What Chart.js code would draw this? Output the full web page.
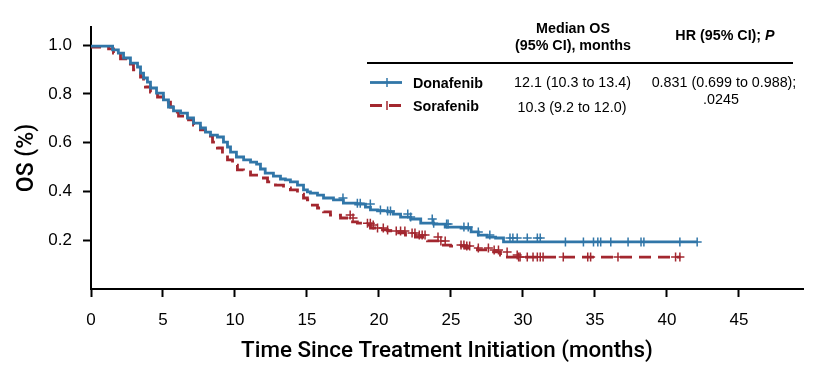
<!DOCTYPE html>
<html>
<head>
<meta charset="utf-8">
<script src="https://cdn.jsdelivr.net/npm/chart.js@4.4.1/dist/chart.umd.min.js"></script>
<style>
  html, body { margin:0; padding:0; background:#fff; }
  #wrap { position:relative; width:814px; height:378px; }
  #c { position:absolute; left:0; top:0; }
  .t { position:absolute; font-family:"Liberation Sans", Arial, sans-serif; color:#000; white-space:nowrap; line-height:1; font-size:14.3px; }
  .b { font-weight:bold; }
  .ctr { text-align:center; transform:translate(-50%,-50%); }
  .lft { transform:translate(0,-50%); }
  #rule { position:absolute; left:367px; top:62px; width:426px; height:1.5px; background:#000; }
</style>
</head>
<body>
<div id="wrap">
  <canvas id="c" width="814" height="378"></canvas>
  <div class="t b ctr" style="left:573px; top:28px;">Median OS</div>
  <div class="t b ctr" style="left:573px; top:45px;">(95% CI), months</div>
  <div class="t b ctr" style="left:725px; top:35px;">HR (95% CI); <i>P</i></div>
  <div id="rule"></div>
  <div class="t b lft" style="left:413px; top:82.5px;">Donafenib</div>
  <div class="t b lft" style="left:413px; top:106px;">Sorafenib</div>
  <div class="t ctr" style="left:572.5px; top:82px;">12.1 (10.3 to 13.4)</div>
  <div class="t ctr" style="left:572px; top:106.5px;">10.3 (9.2 to 12.0)</div>
  <div class="t ctr" style="left:724px; top:82px;">0.831 (0.699 to 0.988);</div>
  <div class="t ctr" style="left:721px; top:99px;">.0245</div>
</div>
<script>
// ---- Data ----
const seriesNames = ["Donafenib", "Sorafenib"];

const donaTimes = [0,1.5,1.9,2.26,2.74,3.23,3.44,3.65,3.92,4.13,4.55,5.03,5.38,5.73,6.22,6.7,7.12,7.6,7.95,8.3,8.78,9.2,9.48,9.69,10.1,10.6,11.08,11.5,11.77,12.1,12.67,13.16,13.5,13.85,14.34,14.76,15.03,15.24,15.73,16.15,16.84,17.53,18.38,19.06,19.41,19.9,20.6,21.0,21.5,22.2,22.9,23.8,24.6,25.7,26.4,26.9,27.5,28.1,28.65,31.7,42.1];
const donaSurv = [1.0,0.996,0.98,0.967,0.947,0.926,0.910,0.885,0.865,0.848,0.824,0.803,0.775,0.746,0.730,0.721,0.701,0.680,0.660,0.643,0.631,0.623,0.602,0.582,0.561,0.541,0.529,0.520,0.512,0.492,0.475,0.463,0.451,0.447,0.439,0.426,0.406,0.398,0.393,0.385,0.373,0.365,0.352,0.348,0.336,0.324,0.320,0.316,0.307,0.295,0.287,0.270,0.266,0.254,0.250,0.234,0.221,0.213,0.209,0.193,0.193];
const donaCensor = [17.5,18.5,18.7,19.4,20.1,20.6,20.8,22.0,22.2,23.7,23.8,24.7,24.8,25.9,26.2,26.9,27.7,29.1,29.3,29.6,30.3,31.0,31.2,32.95,34.2,34.9,35.2,35.4,36.1,37.3,38.2,38.4,40.9,42.1];

const soraTimes = [0,1.22,1.56,2.05,2.53,2.95,3.44,3.65,3.78,4.13,4.62,5.03,5.52,5.87,6.08,6.56,7.12,7.6,7.95,8.44,8.78,9.13,9.48,9.83,10.17,10.59,11.08,11.63,12.26,12.81,13.37,13.85,14.34,14.76,15.03,15.24,15.73,16.15,16.63,17.33,18.02,18.5,18.92,19.41,19.9,20.6,21.0,21.84,22.53,23.37,24.27,24.97,26.01,26.84,27.74,28.44,28.92,29.62,40.94];
const soraSurv = [1.0,0.992,0.984,0.967,0.943,0.922,0.898,0.869,0.844,0.828,0.807,0.787,0.766,0.746,0.725,0.709,0.693,0.672,0.652,0.627,0.602,0.578,0.549,0.529,0.508,0.488,0.480,0.467,0.455,0.439,0.426,0.414,0.406,0.389,0.373,0.365,0.344,0.332,0.316,0.303,0.291,0.275,0.270,0.262,0.250,0.242,0.238,0.230,0.221,0.213,0.197,0.180,0.176,0.168,0.160,0.152,0.139,0.131,0.131];
const soraCensor = [18.0,18.2,19.2,19.4,19.6,19.9,20.3,20.6,21.2,21.5,21.8,22.3,22.5,22.8,23.0,23.2,24.1,24.3,24.6,25.7,25.9,26.1,26.3,26.9,27.6,28.0,28.3,28.9,29.6,29.7,29.8,30.3,30.7,31.0,31.2,31.4,32.8,34.5,34.7,36.6,40.6,40.9];

const xTicks = [0,5,10,15,20,25,30,35,40,45];
const yTicks = [0.2,0.4,0.6,0.8,1.0];
const xTitle = "Time Since Treatment Initiation (months)";
const yTitle = "OS (%)";

const BLUE = "#3176a8";
const RED = "#a3272f";

// ---- Helpers ----
function toPts(ts, vs) { return ts.map((t, i) => ({ x: t, y: vs[i] })); }
function survAt(ts, vs, t) { let s = vs[0]; for (let i = 0; i < ts.length; i++) { if (ts[i] <= t) s = vs[i]; } return s; }
function censorPts(cs, ts, vs) { return cs.map(t => ({ x: t, y: survAt(ts, vs, t) })); }

const legendSamples = {
  id: "legendSamples",
  afterDraw(chart) {
    const ctx = chart.ctx;
    ctx.save();
    const rows = [{ y: 82.5, c: BLUE, dash: [] }, { y: 105.5, c: RED, dash: [12, 7] }];
    rows.forEach(r => {
      ctx.strokeStyle = r.c; ctx.lineWidth = 2.8; ctx.setLineDash(r.dash);
      ctx.beginPath(); ctx.moveTo(370, r.y); ctx.lineTo(402, r.y); ctx.stroke();
      ctx.setLineDash([]); ctx.lineWidth = 1.5;
      ctx.beginPath(); ctx.moveTo(387, r.y - 4.5); ctx.lineTo(387, r.y + 4.5); ctx.stroke();
    });
    ctx.restore();
  }
};

const tickFont = { family: "'Liberation Sans', Arial, sans-serif", size: 17 };

new Chart(document.getElementById("c"), {
  type: "line",
  data: {
    datasets: [
      { label: seriesNames[0], data: toPts(donaTimes, donaSurv), stepped: "after", borderColor: BLUE, borderWidth: 2.8, pointRadius: 0, fill: false, order: 1 },
      { label: seriesNames[1], data: toPts(soraTimes, soraSurv), stepped: "after", borderColor: RED, borderWidth: 2.8, borderDash: [12, 7], pointRadius: 0, fill: false, order: 2 },
      { type: "scatter", label: seriesNames[0] + " censored", data: censorPts(donaCensor, donaTimes, donaSurv), pointStyle: "cross", pointRadius: 4.5, pointBorderWidth: 1.5, borderColor: BLUE, backgroundColor: BLUE, showLine: false, order: 0 },
      { type: "scatter", label: seriesNames[1] + " censored", data: censorPts(soraCensor, soraTimes, soraSurv), pointStyle: "cross", pointRadius: 4.5, pointBorderWidth: 1.5, borderColor: RED, backgroundColor: RED, showLine: false, order: 0 }
    ]
  },
  options: {
    responsive: false,
    animation: false,
    events: [],
    layout: { padding: { top: 27, right: 11, left: 0, bottom: 0 } },
    plugins: { legend: { display: false }, tooltip: { enabled: false } },
    scales: {
      x: {
        type: "linear", min: 0, max: 49.45,
        afterBuildTicks: s => { s.ticks = xTicks.map(v => ({ value: v })); },
        afterFit: s => { s.height = 89; },
        ticks: { color: "#000", font: tickFont, padding: 13, maxRotation: 0, autoSkip: false, callback: v => String(v) },
        grid: { drawOnChartArea: false, drawTicks: true, tickLength: 8, tickWidth: 2, tickColor: "#000" },
        border: { display: true, color: "#000", width: 2 },
        title: { display: true, text: xTitle, color: "#000", font: { family: "Roboto, 'Liberation Sans', sans-serif", size: 22.4, weight: "500" }, padding: { top: 0, bottom: 13 } }
      },
      y: {
        type: "linear", min: 0, max: 1.074,
        afterBuildTicks: s => { s.ticks = yTicks.map(v => ({ value: v })); },
        afterFit: s => { s.width = 91; },
        ticks: { color: "#000", font: tickFont, padding: 11, autoSkip: false, callback: v => v.toFixed(1) },
        grid: { drawOnChartArea: false, drawTicks: true, tickLength: 8, tickWidth: 2, tickColor: "#000" },
        border: { display: true, color: "#000", width: 2 },
        title: { display: true, text: yTitle, color: "#000", font: { family: "Roboto, 'Liberation Sans', sans-serif", size: 23, weight: "500" }, padding: { top: 13, bottom: 0 } }
      }
    }
  },
  plugins: [legendSamples]
});
</script>
</body>
</html>
